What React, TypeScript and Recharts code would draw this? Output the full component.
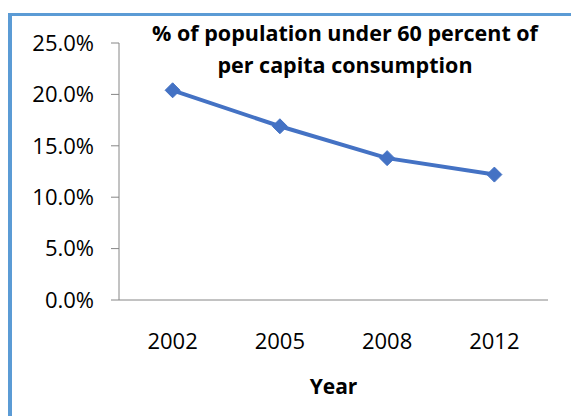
import React from 'react';
import { LineChart, Line, XAxis, YAxis, Label } from 'recharts';

const years = ['2002', '2005', '2008', '2012'];
const shares = [0.204, 0.169, 0.138, 0.122];
const yTicks = [0, 0.05, 0.1, 0.15, 0.2, 0.25];
const boundaryTicks = [0, 1, 2, 3, 4];
const titleLines = ['% of population under 60 percent of', 'per capita consumption'];

const data = years.map((year, i) => ({ x: i + 0.5, year, share: shares[i] }));

const FONT = "'Open Sans', 'Liberation Sans', sans-serif";
const AXIS = '#868686';
const LINE = '#4472c4';

const Diamond = (props: any) => {
  const { cx, cy } = props;
  if (cx == null || cy == null) return null;
  const r = 7.5;
  return (
    <path
      d={`M${cx},${cy - r}L${cx + r},${cy}L${cx},${cy + r}L${cx - r},${cy}Z`}
      fill={LINE}
      stroke={LINE}
    />
  );
};

const App: React.FC = () => {
  return (
    <div style={{ position: 'absolute', left: 0, top: 0, width: 571, height: 416, overflow: 'hidden', background: '#fff' }}>
      <div
        style={{
          position: 'absolute',
          left: 8,
          top: 13,
          width: 620,
          height: 460,
          borderLeft: '4px solid #5b9bd5',
          borderTop: '3px solid #5b9bd5',
        }}
      />
      <LineChart
        width={571}
        height={416}
        data={data}
        margin={{ top: 43, right: 23, left: 0, bottom: 0 }}
        style={{ position: 'absolute', left: 0, top: 0, fontFamily: FONT }}
      >
        <XAxis
          xAxisId="a_ticks"
          type="number"
          dataKey="x"
          domain={[0, 4]}
          ticks={boundaryTicks}
          tick={false}
          height={1}
          stroke={AXIS}
          tickSize={8}
        />
        <XAxis
          xAxisId="b_labels"
          type="number"
          dataKey="x"
          domain={[0, 4]}
          ticks={data.map((d) => d.x)}
          tickFormatter={(v: number) => years[Math.floor(v)]}
          axisLine={false}
          tickLine={false}
          tickMargin={26}
          tick={{ fill: '#000', fontSize: 22 }}
          height={115}
        >
          <Label value="Year" position="insideBottom" offset={22} fill="#000" fontSize={21} fontWeight="bold" />
        </XAxis>
        <YAxis
          type="number"
          domain={[0, 0.25]}
          ticks={yTicks}
          tickFormatter={(v: number) => `${(v * 100).toFixed(1)}%`}
          width={119}
          stroke={AXIS}
          tickSize={8}
          tickMargin={17}
          tick={{ fill: '#000', fontSize: 22 }}
          interval={0}
        />
        <Line
          xAxisId="b_labels"
          dataKey="share"
          stroke={LINE}
          strokeWidth={4}
          dot={<Diamond />}
          activeDot={false}
          isAnimationActive={false}
        />
      </LineChart>
      <div
        style={{
          position: 'absolute',
          left: 145,
          width: 400,
          top: 17,
          textAlign: 'center',
          fontFamily: FONT,
          fontWeight: 'bold',
          fontSize: 21.5,
          lineHeight: '32px',
          color: '#000',
        }}
      >
        {titleLines.map((t) => (
          <div key={t}>{t}</div>
        ))}
      </div>
    </div>
  );
};

export default App;
